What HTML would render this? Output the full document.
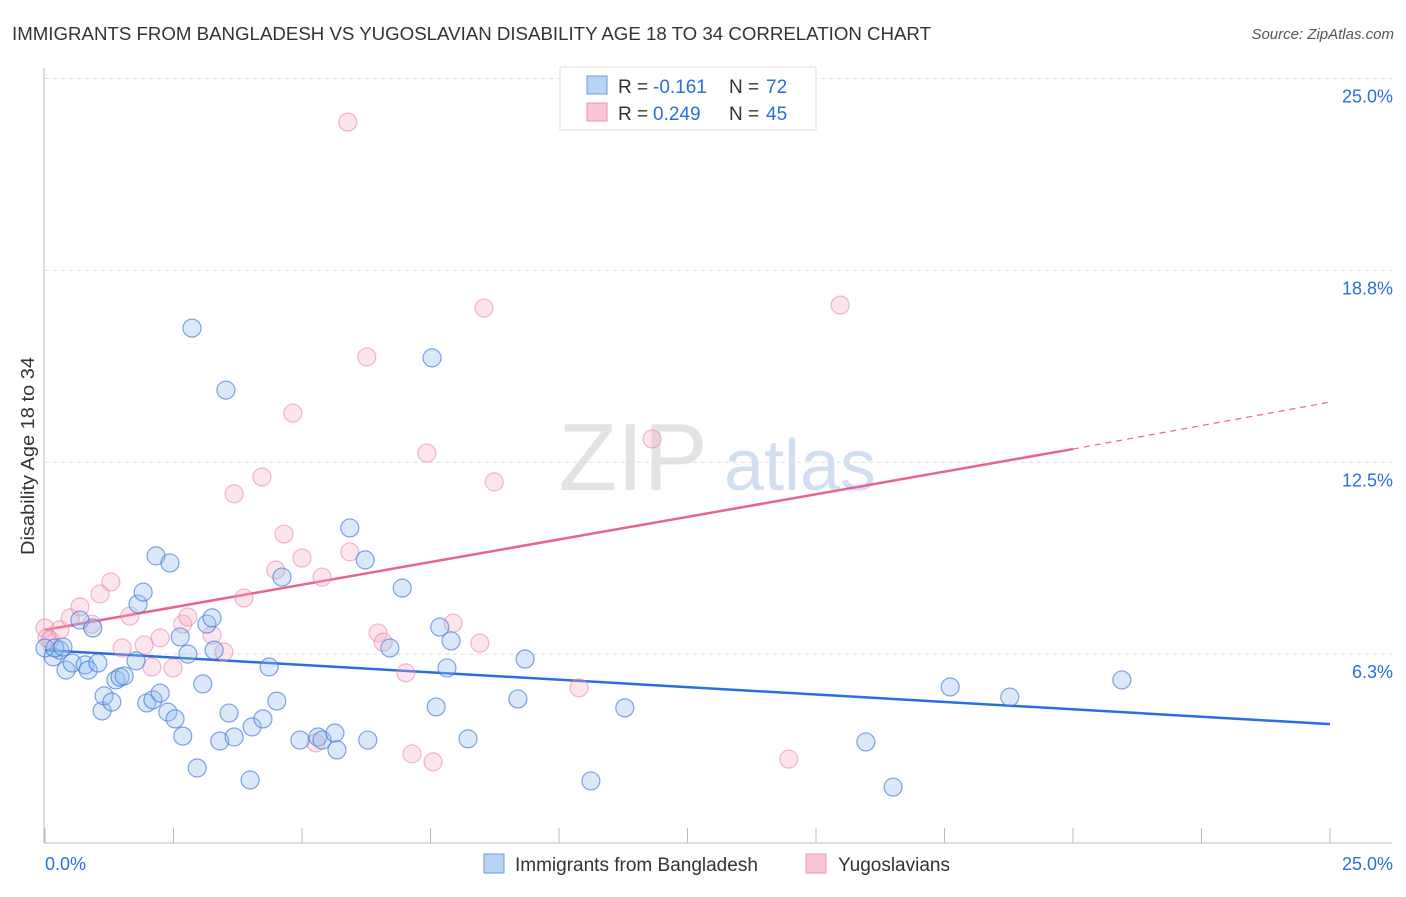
<!DOCTYPE html>
<html><head><meta charset="utf-8"><style>
body{margin:0;background:#fff;font-family:"Liberation Sans",sans-serif}
svg text{font-family:"Liberation Sans",sans-serif}
</style></head><body>
<svg id="chart" width="1406" height="892" viewBox="0 0 1406 892" xmlns="http://www.w3.org/2000/svg">
<text x="12" y="40" font-size="18" fill="#333" textLength="919" lengthAdjust="spacingAndGlyphs">IMMIGRANTS FROM BANGLADESH VS YUGOSLAVIAN DISABILITY AGE 18 TO 34 CORRELATION CHART</text>
<text x="1394" y="39" font-size="15" fill="#555" text-anchor="end" font-style="italic">Source: ZipAtlas.com</text>
<g>
<text x="633" y="490" font-size="96" fill="#ddd" font-family="Liberation Serif" text-anchor="middle" opacity="0.8">ZIP</text>
<text x="800" y="490" font-size="72" fill="#c8d8ee" text-anchor="middle" opacity="0.8">atlas</text>
</g>
<g id="grid"></g>
<g id="axes"></g>
<g id="trend"></g>
<g id="points"></g>
<text x="34" y="456" font-size="18" fill="#333" text-anchor="middle" textLength="198" lengthAdjust="spacingAndGlyphs" transform="rotate(-90 34 456)">Disability Age 18 to 34</text>
<g>
<rect x="560" y="67" width="256" height="63" fill="#fff" stroke="#ddd"/>
<rect x="587" y="76" width="20" height="18" fill="#b8d4f5" stroke="#6a9bd8"/>
<rect x="587" y="103" width="20" height="18" fill="#f9c6d5" stroke="#e898b0"/>
<text x="618" y="93" font-size="19" fill="#333">R =</text>
<text x="653" y="93" font-size="19" fill="#2a6fdb">-0.161</text>
<text x="729" y="93" font-size="19" fill="#333">N =</text>
<text x="766" y="93" font-size="19" fill="#2a6fdb">72</text>
<text x="618" y="120" font-size="19" fill="#333">R =</text>
<text x="653" y="120" font-size="19" fill="#2a6fdb">0.249</text>
<text x="729" y="120" font-size="19" fill="#333">N =</text>
<text x="766" y="120" font-size="19" fill="#2a6fdb">45</text>
</g>
<g>
<rect x="484" y="854" width="20" height="19" fill="#b8d4f5" stroke="#6a9bd8"/>
<text x="515" y="871" font-size="19" fill="#333">Immigrants from Bangladesh</text>
<rect x="806" y="854" width="20" height="19" fill="#f9c6d5" stroke="#e898b0"/>
<text x="838" y="871" font-size="19" fill="#333">Yugoslavians</text>
</g>
</svg>
<script>
const yTicks=[6.25,12.5,18.75,25];
const yTickLabels=["6.3%","12.5%","18.8%","25.0%"];
const xTickLabels=["0.0%","25.0%"];
const blueX=[0.16,0.29,0.41,0.53,0.68,0.78,0.84,0.93,1.03,1.11,1.15,1.30,1.38,1.46,1.54,1.77,1.81,1.91,1.98,2.10,2.16,2.24,2.39,2.43,2.53,2.63,2.68,2.78,2.86,2.96,3.07,3.15,3.25,3.29,3.40,3.52,3.58,3.68,4.03,3.99,4.24,4.36,4.51,4.61,4.96,5.31,5.39,5.64,5.68,5.93,6.23,6.28,6.71,6.95,7.53,7.61,7.68,7.82,7.90,8.23,9.20,9.34,10.62,11.28,15.97,16.50,17.61,18.77,20.95,0.0,0.19,0.35];
const blueY=[6.16,6.38,5.73,5.96,7.36,5.90,5.73,7.10,5.96,4.40,4.89,4.69,5.41,5.50,5.54,6.03,7.88,8.27,4.66,4.76,9.45,4.98,4.36,9.22,4.14,6.81,3.58,6.25,16.87,2.54,5.28,7.23,7.43,6.38,3.42,14.85,4.33,3.55,3.88,2.15,4.14,5.83,4.72,8.76,3.45,3.55,3.45,3.68,3.13,10.36,9.32,3.45,6.45,8.40,15.90,4.53,7.13,5.80,6.68,3.49,4.79,6.09,2.12,4.50,3.39,1.92,5.18,4.85,5.41,6.45,6.45,6.48];
const pinkX=[0.0,0.10,0.29,0.49,0.68,0.91,1.07,1.28,1.65,1.50,1.93,2.08,2.24,2.49,2.68,2.78,3.25,3.48,3.68,3.87,4.22,4.49,4.65,4.82,5.00,5.27,5.39,5.89,5.93,6.26,6.48,6.58,7.02,7.14,7.43,7.55,7.94,8.46,8.54,8.74,10.39,11.81,14.47,15.47,0.04];
const pinkY=[7.10,6.71,7.04,7.43,7.79,7.23,8.21,8.60,7.49,6.45,6.55,5.83,6.78,5.80,7.23,7.46,6.87,6.32,11.47,8.08,12.02,8.99,10.16,14.10,9.38,3.36,8.76,23.58,9.58,15.93,6.94,6.64,5.64,3.00,12.80,2.74,7.26,6.61,17.52,11.86,5.15,13.26,2.83,17.62,6.78];
const blueTrend=[6.38,3.97];
const pinkTrend=[7.04,12.93,14.46];
const pinkTrendX=[0,20,25];

const NS="http://www.w3.org/2000/svg";
const X=v=>45+v*51.4, Y=v=>846-v*30.7;
function mk(tag,attrs,parent){const e=document.createElementNS(NS,tag);for(const k in attrs)e.setAttribute(k,attrs[k]);parent.appendChild(e);return e;}
const grid=document.getElementById('grid'),axes=document.getElementById('axes'),trend=document.getElementById('trend'),pts=document.getElementById('points');
yTicks.forEach((t,i)=>{
  const l=mk('line',{x1:45,x2:1392,y1:Y(t),y2:Y(t),stroke:'#ddd','stroke-dasharray':'4,4'},grid);
  
  
  const tx=mk('text',{x:1393,y:Y(t)+24,'font-size':18,fill:'#2a6fdb','text-anchor':'end'},axes);
  tx.textContent=yTickLabels[i];
  
  
});
const ax=mk('line',{x1:44,x2:44,y1:68,y2:843,stroke:'#bbb'},axes);


const bx=mk('line',{x1:44,x2:1392,y1:843,y2:843,stroke:'#bbb'},axes);


for(let i=0;i<=10;i++){
  const t=mk('line',{x1:X(i*2.5),x2:X(i*2.5),y1:828,y2:843,stroke:'#bbb'},axes);
  
  
}
[0,25].forEach((v,i)=>{
  const tx=mk('text',{x:i?1393:45,y:870,'font-size':18,fill:'#2a6fdb','text-anchor':i?'end':'start'},axes);
  tx.textContent=xTickLabels[i];
  
  
});
const bl=mk('line',{x1:X(0),y1:Y(blueTrend[0]),x2:X(25),y2:Y(blueTrend[1]),stroke:'#2a6fdb','stroke-width':2.5},trend);


const pl=mk('line',{x1:X(pinkTrendX[0]),y1:Y(pinkTrend[0]),x2:X(pinkTrendX[1]),y2:Y(pinkTrend[1]),stroke:'#e8648f','stroke-width':2.5},trend);


const pd=mk('line',{x1:X(pinkTrendX[1]),y1:Y(pinkTrend[1]),x2:X(pinkTrendX[2]),y2:Y(pinkTrend[2]),stroke:'#e8648f','stroke-width':1.2,'stroke-dasharray':'6,5'},trend);


pinkX.forEach((x,i)=>{
  const c=mk('circle',{cx:X(x),cy:Y(pinkY[i]),r:9,fill:'rgba(247,170,195,0.3)',stroke:'rgba(232,130,160,0.55)','stroke-width':1.2},pts);
  
  
});
blueX.forEach((x,i)=>{
  const c=mk('circle',{cx:X(x),cy:Y(blueY[i]),r:9,fill:'rgba(150,190,240,0.35)',stroke:'rgba(60,120,210,0.65)','stroke-width':1.2},pts);
  
  
});
</script>
</body></html>
